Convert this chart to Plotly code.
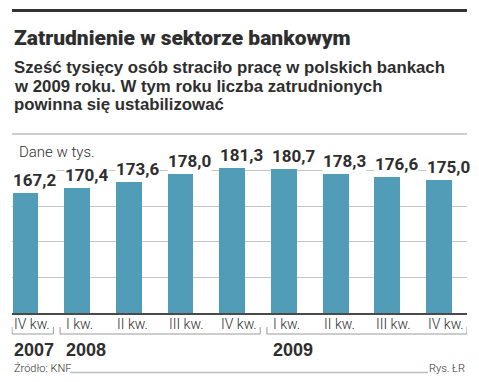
import plotly.graph_objects as go

# ---------------- data ----------------
quarters = ["IV kw.", "I kw.", "II kw.", "III kw.", "IV kw.",
            "I kw.", "II kw.", "III kw.", "IV kw."]
values = [167.2, 170.4, 173.6, 178.0, 181.3, 180.7, 178.3, 176.6, 175.0]
years = ["2007", "2008", "2009"]
year_first = [0, 1, 5]
year_last = [0, 4, 8]
grid_values = [120, 140, 160, 180]

title = "Zatrudnienie w sektorze bankowym"
subtitle_lines = [
    "Sześć tysięcy osób straciło pracę w polskich bankach",
    "w 2009 roku. W tym roku liczba zatrudnionych",
    "powinna się ustabilizować",
]
unit_label = "Dane w tys."
source = "Źródło: KNF"
credit = "Rys. ŁR"

# ---------------- layout helpers ----------------
W, H = 479, 382
def xp(px):
    return px / W
def yp(py):
    return 1 - py / H

BAR = "#519db8"
TXT = "#2e2e2e"
GRID = "#c4c4c4"
X_RANGE = [-0.26, 8.55]
Y_RANGE = [100, 200.6]
PLOT_L, PLOT_R = 11.5, 467
PLOT_B, PLOT_T = 313, 134

idx = list(range(len(values)))
labels = [f"{v:.1f}".replace(".", ",") for v in values]

fig = go.Figure()
fig.add_trace(go.Bar(
    x=idx, y=values, width=0.5,
    marker=dict(color=BAR, line=dict(width=0)),
    hoverinfo="skip",
))

ann = []
# value labels (left aligned with bar left edge, white background)
for i, (v, t) in enumerate(zip(values, labels)):
    ann.append(dict(
        x=i - 0.25, y=v, xref="x", yref="y", text=t, showarrow=False,
        xanchor="left", yanchor="bottom", yshift=2,
        bgcolor="white", borderpad=0,
        font=dict(family="Roboto", size=17, color=TXT, weight="bold"),
    ))
# quarter labels
for i, q in enumerate(quarters):
    ann.append(dict(
        x=i - 0.25, y=yp(324), xref="x", yref="paper", text=q, showarrow=False,
        xanchor="left", yanchor="middle",
        font=dict(family="Roboto", size=14, color=TXT, weight=300),
    ))
# year labels
for y, f in zip(years, year_first):
    ann.append(dict(
        x=f - 0.25, y=yp(350), xref="x", yref="paper", text=y, showarrow=False,
        xanchor="left", yanchor="middle",
        font=dict(family="Liberation Sans", size=18, color=TXT, weight="bold"),
    ))
# header texts
ann.append(dict(x=xp(12), y=yp(38), xref="paper", yref="paper", text=title,
                showarrow=False, xanchor="left", yanchor="middle",
                font=dict(family="Roboto", size=21, color=TXT, weight=900)))
for py, line in zip([67.5, 86.5, 104.5], subtitle_lines):
    ann.append(dict(x=xp(12), y=yp(py), xref="paper", yref="paper", text=line,
                    showarrow=False, xanchor="left", yanchor="middle",
                    font=dict(family="Liberation Sans", size=16.8, color=TXT, weight="bold")))
ann.append(dict(x=xp(17), y=yp(152), xref="paper", yref="paper", text=unit_label,
                showarrow=False, xanchor="left", yanchor="middle",
                font=dict(family="Roboto", size=15, color=TXT, weight=300)))
ann.append(dict(x=xp(12), y=yp(368), xref="paper", yref="paper", text=source,
                showarrow=False, xanchor="left", yanchor="middle",
                font=dict(family="Roboto", size=11, color=TXT, weight=300)))
ann.append(dict(x=xp(467), y=yp(368), xref="paper", yref="paper", text=credit,
                showarrow=False, xanchor="right", yanchor="middle",
                font=dict(family="Roboto", size=11, color=TXT, weight=300)))

shapes = []
# top thick rule
shapes.append(dict(type="line", xref="paper", yref="paper",
                   x0=xp(12), x1=xp(467), y0=yp(10.5), y1=yp(10.5),
                   line=dict(color="#333333", width=3)))
# separator above chart
shapes.append(dict(type="line", xref="paper", yref="paper",
                   x0=xp(12), x1=xp(467), y0=yp(PLOT_T), y1=yp(PLOT_T),
                   line=dict(color="#bdbdbd", width=1.5)))
# year brackets
for f, l in zip(year_first, year_last):
    x0 = max(f - 0.32, -0.25)
    x1 = min(l + 0.55, X_RANGE[1])
    for sx0, sx1, sy0, sy1 in [(x0, x1, 334, 334), (x0, x0, 327, 334), (x1, x1, 327, 334)]:
        shapes.append(dict(type="line", xref="x", yref="paper",
                           x0=sx0, x1=sx1, y0=yp(sy0), y1=yp(sy1),
                           line=dict(color="#9a9a9a", width=1)))
# footer rule
shapes.append(dict(type="line", xref="paper", yref="paper",
                   x0=xp(70), x1=xp(428), y0=yp(372.5), y1=yp(372.5),
                   line=dict(color="#bdbdbd", width=1.5)))

fig.update_layout(
    width=W, height=H,
    margin=dict(l=0, r=0, t=0, b=0),
    paper_bgcolor="white", plot_bgcolor="white",
    showlegend=False,
    bargap=0,
    xaxis=dict(domain=[xp(PLOT_L), xp(PLOT_R)], range=X_RANGE,
               showgrid=False, zeroline=False, showticklabels=False, ticks="",
               showline=True, linecolor="#4a4a4a", linewidth=2,
               fixedrange=True),
    yaxis=dict(domain=[yp(PLOT_B), yp(PLOT_T)], range=Y_RANGE,
               tickvals=grid_values, showgrid=True, gridcolor=GRID, gridwidth=1,
               zeroline=False, showticklabels=False, ticks="", showline=False,
               fixedrange=True),
    annotations=ann,
    shapes=shapes,
)

fig.write_html("out.html", config={"displayModeBar": False},
               post_script="document.body.style.margin='0';document.body.style.padding='0';")
